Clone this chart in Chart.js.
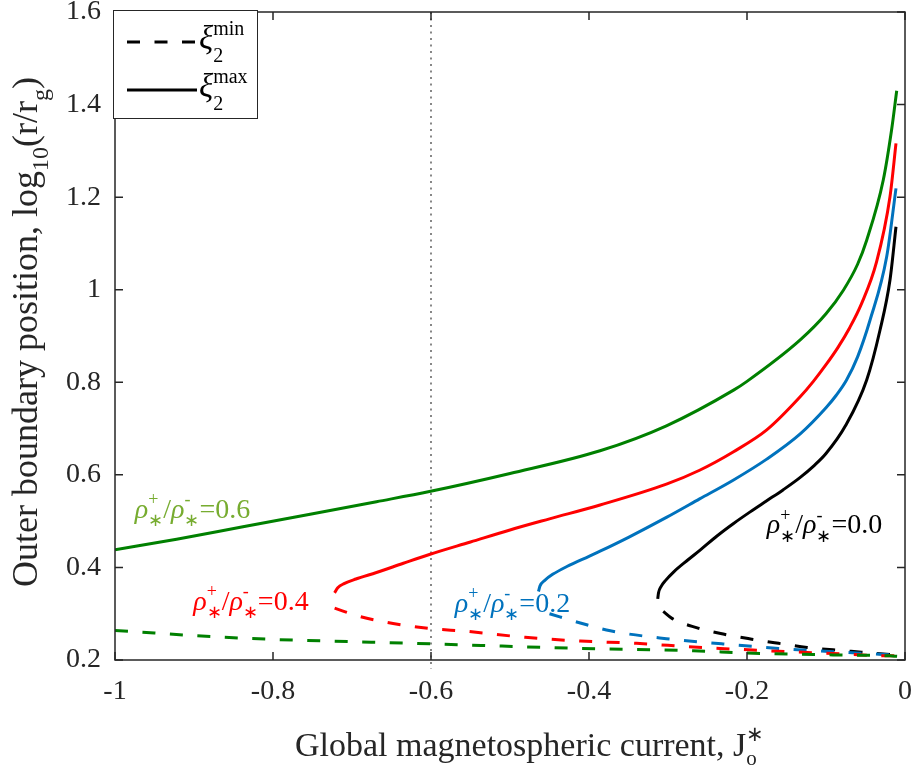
<!DOCTYPE html>
<html>
<head>
<meta charset="utf-8">
<script src="https://cdn.jsdelivr.net/npm/chart.js@4/dist/chart.umd.min.js"></script>
<style>
  html, body { margin: 0; padding: 0; background: #fff; }
  #wrap { width: 916px; height: 767px; }
</style>
</head>
<body>
<div id="wrap"><canvas id="chart" width="916" height="767"></canvas></div>
<script>
// xi_2^max branch (solid) and xi_2^min branch (dashed), per rho+/rho- ratio
const greenMaxX = [-1, -0.922, -0.838, -0.753, -0.669, -0.602, -0.5, -0.386, -0.302, -0.217, -0.2, -0.133, -0.1, -0.078, -0.06, -0.0485, -0.0275, -0.017, -0.0105];
const greenMaxY = [0.438, 0.461, 0.488, 0.515, 0.542, 0.564, 0.603, 0.652, 0.706, 0.783, 0.802, 0.891, 0.948, 0.999, 1.055, 1.107, 1.237, 1.345, 1.430];
const greenMinX = [-1, -0.85, -0.601, -0.411, -0.268, -0.2, -0.091, -0.019, -0.01];
const greenMinY = [0.264, 0.248, 0.235, 0.225, 0.220, 0.215, 0.211, 0.209, 0.208];

const redMaxX = [-0.722, -0.718, -0.710, -0.695, -0.669, -0.635, -0.602, -0.55, -0.5, -0.45, -0.386, -0.302, -0.26, -0.217, -0.175, -0.133, -0.116, -0.1, -0.085, -0.07, -0.055, -0.036, -0.019, -0.0114];
const redMaxY = [0.345, 0.356, 0.365, 0.375, 0.389, 0.409, 0.428, 0.455, 0.481, 0.505, 0.535, 0.580, 0.610, 0.650, 0.697, 0.768, 0.802, 0.838, 0.875, 0.918, 0.970, 1.060, 1.201, 1.316];
const redMinX = [-0.722, -0.69, -0.648, -0.601, -0.555, -0.481, -0.411, -0.34, -0.268, -0.234, -0.16, -0.091, -0.019, -0.01];
const redMinY = [0.312, 0.294, 0.279, 0.268, 0.262, 0.249, 0.241, 0.236, 0.228, 0.225, 0.219, 0.214, 0.209, 0.209];

const blueMaxX = [-0.464, -0.462, -0.456, -0.446, -0.428, -0.4, -0.386, -0.35, -0.302, -0.26, -0.217, -0.175, -0.133, -0.1, -0.087, -0.074, -0.06, -0.0443, -0.0232, -0.0114];
const blueMaxY = [0.348, 0.360, 0.372, 0.385, 0.402, 0.424, 0.435, 0.465, 0.508, 0.548, 0.589, 0.634, 0.688, 0.745, 0.772, 0.805, 0.855, 0.934, 1.071, 1.219];
const blueMinX = [-0.45, -0.411, -0.373, -0.302, -0.232, -0.16, -0.091, -0.019, -0.01];
const blueMinY = [0.300, 0.280, 0.263, 0.246, 0.235, 0.225, 0.218, 0.211, 0.210];

const blackMaxX = [-0.313, -0.312, -0.309, -0.303, -0.293, -0.275, -0.259, -0.238, -0.217, -0.196, -0.175, -0.154, -0.133, -0.115, -0.1, -0.075, -0.0485, -0.0316, -0.019, -0.0114];
const blackMaxY = [0.332, 0.345, 0.358, 0.372, 0.390, 0.416, 0.438, 0.468, 0.495, 0.520, 0.544, 0.568, 0.594, 0.620, 0.646, 0.707, 0.805, 0.913, 1.021, 1.136];
const blackMinX = [-0.306, -0.295, -0.264, -0.23, -0.194, -0.16, -0.124, -0.091, -0.055, -0.019, -0.01];
const blackMinY = [0.305, 0.290, 0.270, 0.256, 0.245, 0.236, 0.227, 0.222, 0.217, 0.212, 0.211];

const xTicks = [-1, -0.8, -0.6, -0.4, -0.2, 0];
const yTicks = [0.2, 0.4, 0.6, 0.8, 1, 1.2, 1.4, 1.6];
const refLineX = -0.6;

// curve labels: ratio text, anchor (data coords), colour
const ratioLabels = ['0.6', '0.4', '0.2', '0.0'];
const ratioLabelX = [-0.975, -0.901, -0.570, -0.175];
const ratioLabelY = [0.507, 0.308, 0.304, 0.474];
const ratioLabelColors = ['#77AC30', '#FF0000', '#0072BD', '#000000'];

const SERIF = '"Liberation Serif", "Times New Roman", serif';
const AXIS_COLOR = '#262626';
const DASH = [13, 14.5];

const pts = (xs, ys) => xs.map((x, i) => ({ x, y: ys[i] }));

function line(xs, ys, color, dashed) {
  return {
    data: pts(xs, ys),
    showLine: true,
    borderColor: color,
    borderWidth: 3,
    borderDash: dashed ? DASH : [],
    pointRadius: 0,
    cubicInterpolationMode: 'monotone',
    fill: false
  };
}

// rich text: tokens are {t, it, size} or {sup, sub} stacked scripts
function drawRich(ctx, x, y, tokens, size, color, o = {}) {
  const small = Math.round(size * (o.scale || 0.68));
  const supDy = o.supDy ?? 0.45, subDy = o.subDy ?? 0.3;
  ctx.fillStyle = color;
  ctx.textBaseline = 'alphabetic';
  ctx.textAlign = 'left';
  let cx = x;
  for (const tk of tokens) {
    if (tk.t !== undefined) {
      ctx.font = `${tk.it ? 'italic ' : ''}${tk.size || size}px ${SERIF}`;
      ctx.fillText(tk.t, cx, y);
      cx += ctx.measureText(tk.t).width;
    } else {
      ctx.font = `${small}px ${SERIF}`;
      let w = 0;
      if (tk.sup) { ctx.fillText(tk.sup, cx, y - size * supDy); w = Math.max(w, ctx.measureText(tk.sup).width); }
      if (tk.sub) { ctx.fillText(tk.sub, cx, y + size * subDy); w = Math.max(w, ctx.measureText(tk.sub).width); }
      cx += w;
    }
  }
  return cx - x;
}

const decorations = {
  id: 'decorations',
  beforeDatasetsDraw(chart) {
    const { ctx, chartArea: a, scales: { x } } = chart;
    const px = x.getPixelForValue(refLineX);
    ctx.save();
    ctx.strokeStyle = '#7a7a7a';
    ctx.lineWidth = 1.8;
    ctx.setLineDash([2, 4.5]);
    ctx.beginPath();
    ctx.moveTo(px, a.top);
    ctx.lineTo(px, a.bottom + 9);
    ctx.stroke();
    ctx.restore();
  },
  afterDatasetsDraw(chart) {
    const { ctx, chartArea: a, scales: { x, y } } = chart;
    ctx.save();
    // axes box with inward ticks
    ctx.strokeStyle = AXIS_COLOR;
    ctx.lineWidth = 1.5;
    ctx.strokeRect(a.left, a.top, a.right - a.left, a.bottom - a.top);
    ctx.beginPath();
    const tl = 8;
    xTicks.forEach(v => {
      const p = x.getPixelForValue(v);
      ctx.moveTo(p, a.bottom); ctx.lineTo(p, a.bottom - tl);
      ctx.moveTo(p, a.top); ctx.lineTo(p, a.top + tl);
    });
    yTicks.forEach(v => {
      const p = y.getPixelForValue(v);
      ctx.moveTo(a.left, p); ctx.lineTo(a.left + tl, p);
      ctx.moveTo(a.right, p); ctx.lineTo(a.right - tl, p);
    });
    ctx.stroke();

    // ratio labels
    ratioLabels.forEach((r, i) => {
      drawRich(ctx, x.getPixelForValue(ratioLabelX[i]), y.getPixelForValue(ratioLabelY[i]), [
        { t: 'ρ', it: true }, { sup: '+', sub: '∗' }, { t: '/' },
        { t: 'ρ', it: true }, { sup: '-', sub: '∗' }, { t: '=' + r }
      ], 28, ratioLabelColors[i], { scale: 0.66, supDy: 0.45, subDy: 0.3 });
    });

    // legend
    const lx = a.left - 2, ly = a.top - 2;
    ctx.fillStyle = '#fff';
    ctx.fillRect(lx, ly, 144, 108);
    ctx.strokeStyle = AXIS_COLOR;
    ctx.lineWidth = 1;
    ctx.strokeRect(lx + 0.5, ly + 0.5, 144, 108);
    ctx.strokeStyle = '#000';
    ctx.lineWidth = 3;
    ctx.setLineDash(DASH);
    ctx.beginPath(); ctx.moveTo(lx + 14, ly + 32); ctx.lineTo(lx + 84, ly + 32); ctx.stroke();
    ctx.setLineDash([]);
    ctx.beginPath(); ctx.moveTo(lx + 14, ly + 80); ctx.lineTo(lx + 84, ly + 80); ctx.stroke();
    [['min', 39], ['max', 87]].forEach(([s, by]) => {
      drawRich(ctx, lx + 86, ly + by, [{ t: 'ξ', it: true, size: 33 }, { sup: s, sub: '2' }], 28, '#000',
        { scale: 0.72, supDy: 0.5, subDy: 0.46 });
    });

    // axis titles
    drawRich(ctx, 295, 756, [{ t: 'Global magnetospheric current, J' }, { sup: '∗', sub: 'o' }],
      34, AXIS_COLOR, { scale: 0.62, supDy: 0.45, subDy: 0.27 });

    ctx.translate(37, 332);
    ctx.rotate(-Math.PI / 2);
    const yt = [{ t: 'Outer boundary position, log' }, { sub: '10' }, { t: '(r/r' }, { sub: 'g' }, { t: ')' }];
    ctx.globalAlpha = 0;
    const w = drawRich(ctx, 0, 0, yt, 36, AXIS_COLOR);
    ctx.globalAlpha = 1;
    drawRich(ctx, -w / 2, 0, yt, 36, AXIS_COLOR);
    ctx.restore();
  }
};

const noPad = s => { s.paddingLeft = 0; s.paddingRight = 0; s.paddingTop = 0; s.paddingBottom = 0; };

new Chart(document.getElementById('chart'), {
  type: 'scatter',
  data: {
    datasets: [
      line(greenMinX, greenMinY, '#008000', true),
      line(redMinX, redMinY, '#FF0000', true),
      line(blueMinX, blueMinY, '#0072BD', true),
      line(blackMinX, blackMinY, '#000000', true),
      line(greenMaxX, greenMaxY, '#008000', false),
      line(redMaxX, redMaxY, '#FF0000', false),
      line(blueMaxX, blueMaxY, '#0072BD', false),
      line(blackMaxX, blackMaxY, '#000000', false)
    ]
  },
  options: {
    responsive: false,
    devicePixelRatio: 1,
    animation: false,
    layout: { autoPadding: false, padding: { top: 12, right: 11, left: 0, bottom: 0 } },
    plugins: { legend: { display: false }, tooltip: { enabled: false } },
    scales: {
      x: {
        type: 'linear', min: -1, max: 0,
        afterFit: s => { s.height = 107; noPad(s); },
        afterBuildTicks: s => { s.ticks = xTicks.map(v => ({ value: v })); },
        grid: { display: false, drawTicks: false },
        border: { display: false },
        ticks: { color: AXIS_COLOR, padding: 15, font: { family: SERIF, size: 28 }, callback: v => String(+v.toFixed(1)), maxRotation: 0 }
      },
      y: {
        type: 'linear', min: 0.2, max: 1.6,
        afterFit: s => { s.width = 115; noPad(s); },
        afterBuildTicks: s => { s.ticks = yTicks.map(v => ({ value: v })); },
        grid: { display: false, drawTicks: false },
        border: { display: false },
        ticks: { color: AXIS_COLOR, padding: 14, font: { family: SERIF, size: 28 }, callback: v => String(+v.toFixed(1)) }
      }
    }
  },
  plugins: [decorations]
});
</script>
</body>
</html>
